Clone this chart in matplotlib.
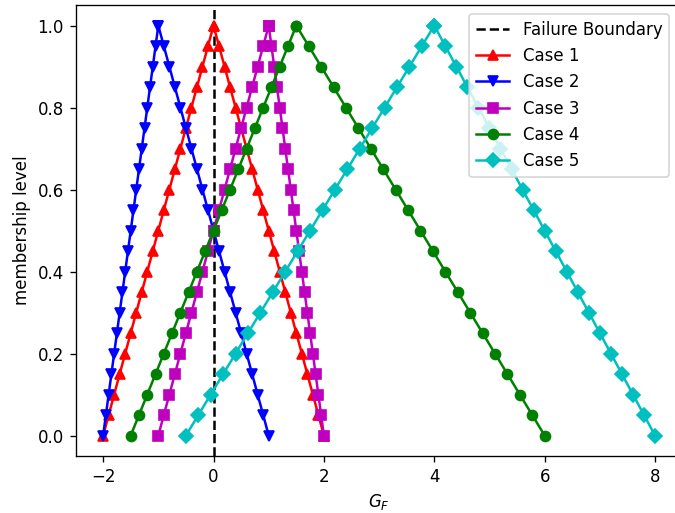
import matplotlib
matplotlib.use("Agg")
import matplotlib.pyplot as plt

# membership levels (alpha cuts)
levels = [0.0, 0.05, 0.1, 0.15, 0.2, 0.25, 0.3, 0.35, 0.4, 0.45, 0.5,
          0.55, 0.6, 0.65, 0.7, 0.75, 0.8, 0.85, 0.9, 0.95, 1.0]

# left / right ends of each cut, listed from level 0 up to level 1
case1_left = [-2.0, -1.9, -1.8, -1.7, -1.6, -1.5, -1.4, -1.3, -1.2, -1.1, -1.0,
              -0.9, -0.8, -0.7, -0.6, -0.5, -0.4, -0.3, -0.2, -0.1, 0.0]
case1_right = [2.0, 1.9, 1.8, 1.7, 1.6, 1.5, 1.4, 1.3, 1.2, 1.1, 1.0,
               0.9, 0.8, 0.7, 0.6, 0.5, 0.4, 0.3, 0.2, 0.1, 0.0]

case2_left = [-2.0, -1.95, -1.9, -1.85, -1.8, -1.75, -1.7, -1.65, -1.6, -1.55, -1.5,
              -1.45, -1.4, -1.35, -1.3, -1.25, -1.2, -1.15, -1.1, -1.05, -1.0]
case2_right = [1.0, 0.9, 0.8, 0.7, 0.6, 0.5, 0.4, 0.3, 0.2, 0.1, 0.0,
               -0.1, -0.2, -0.3, -0.4, -0.5, -0.6, -0.7, -0.8, -0.9, -1.0]

case3_left = [-1.0, -0.9, -0.8, -0.7, -0.6, -0.5, -0.4, -0.3, -0.2, -0.1, 0.0,
              0.1, 0.2, 0.3, 0.4, 0.5, 0.6, 0.7, 0.8, 0.9, 1.0]
case3_right = [2.0, 1.95, 1.9, 1.85, 1.8, 1.75, 1.7, 1.65, 1.6, 1.55, 1.5,
               1.45, 1.4, 1.35, 1.3, 1.25, 1.2, 1.15, 1.1, 1.05, 1.0]

case4_left = [-1.5, -1.35, -1.2, -1.05, -0.9, -0.75, -0.6, -0.45, -0.3, -0.15, 0.0,
              0.15, 0.3, 0.45, 0.6, 0.75, 0.9, 1.05, 1.2, 1.35, 1.5]
case4_right = [6.0, 5.775, 5.55, 5.325, 5.1, 4.875, 4.65, 4.425, 4.2, 3.975, 3.75,
               3.525, 3.3, 3.075, 2.85, 2.625, 2.4, 2.175, 1.95, 1.725, 1.5]

case5_left = [-0.5, -0.275, -0.05, 0.175, 0.4, 0.625, 0.85, 1.075, 1.3, 1.525, 1.75,
              1.975, 2.2, 2.425, 2.65, 2.875, 3.1, 3.325, 3.55, 3.775, 4.0]
case5_right = [8.0, 7.8, 7.6, 7.4, 7.2, 7.0, 6.8, 6.6, 6.4, 6.2, 6.0,
               5.8, 5.6, 5.4, 5.2, 5.0, 4.8, 4.6, 4.4, 4.2, 4.0]

cases = [
    ("Case 1", case1_left, case1_right, "r^-"),
    ("Case 2", case2_left, case2_right, "bv-"),
    ("Case 3", case3_left, case3_right, "ms-"),
    ("Case 4", case4_left, case4_right, "go-"),
    ("Case 5", case5_left, case5_right, "cD-"),
]

# the reference was drawn at a larger scale, so use dpi 120
dpi = 120
fig = plt.figure(figsize=(675 / dpi, 513 / dpi), dpi=dpi)
ax = fig.add_axes([0.1119, 0.1111, 0.8994, 0.879])

ax.axvline(0, color="k", linestyle="--", label="Failure Boundary")
for name, left, right, fmt in cases:
    xs = left + right[::-1]
    ys = levels + levels[::-1]
    ax.plot(xs, ys, fmt, label=name)

ax.set_xlabel("$G_F$")
ax.set_ylabel("membership level")
ax.legend(loc="upper right", bbox_to_anchor=(669 / 675, 1 - 14 / 513),
          bbox_transform=fig.transFigure, borderaxespad=0)

fig.savefig("out.png", dpi=dpi)
